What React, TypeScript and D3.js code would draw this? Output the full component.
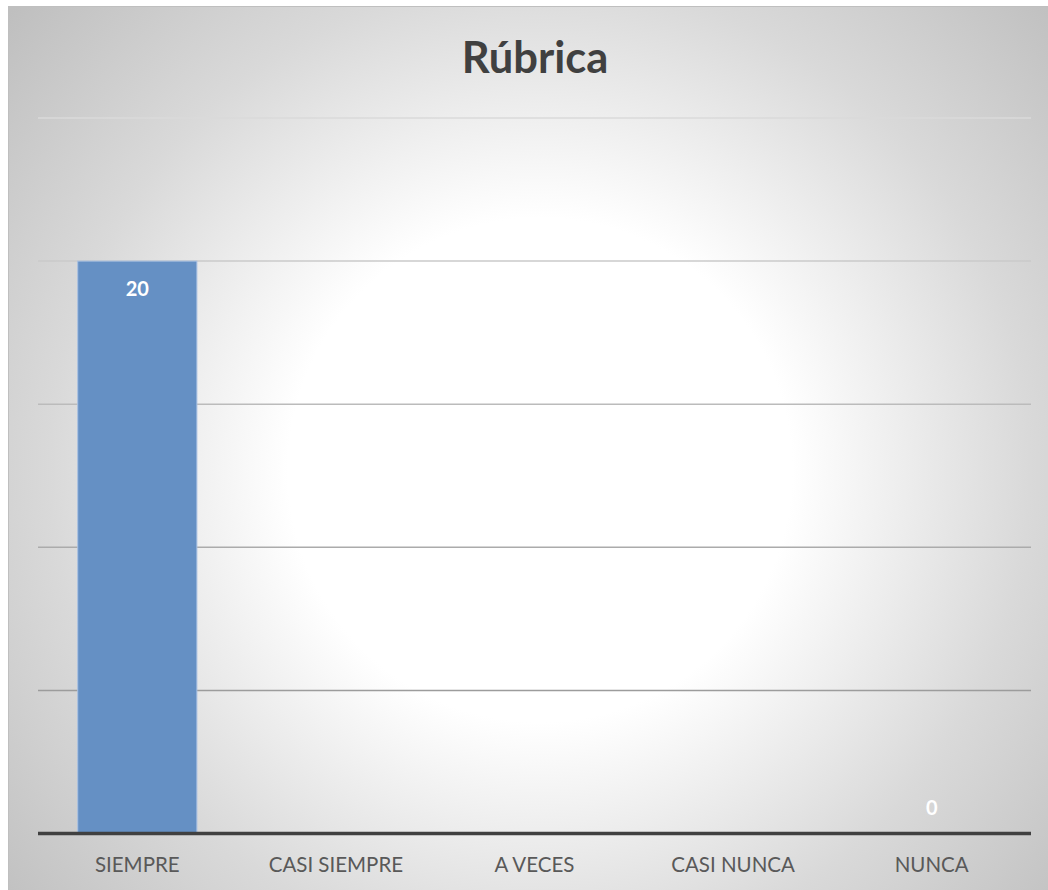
import React from "react";
import * as d3 from "d3";

const title = "Rúbrica";
const categories = ["SIEMPRE", "CASI SIEMPRE", "A VECES", "CASI NUNCA", "NUNCA"];
const values: (number | null)[] = [20, null, null, null, 0];
const yTicks = [0, 5, 10, 15, 20, 25];

const W = 1048;
const H = 890;
const plot = { left: 38, right: 1031, top: 118, bottom: 833.5 };
const FONT = "Lato, 'Open Sans', 'DejaVu Sans', sans-serif";

export default function App() {
  const x = d3.scaleBand<string>().domain(categories).range([plot.left, plot.right]).paddingInner(0.4).paddingOuter(0.2);
  const y = d3.scaleLinear().domain([0, 25]).range([plot.bottom, plot.top]);
  const gridColor = d3.scaleLinear<string>().domain([plot.top, 690]).range(["#dadada", "#9c9c9c"]).clamp(true);

  return (
    <svg width={W} height={H} style={{ position: "absolute", left: 0, top: 0 }}>
      <defs>
        <radialGradient id="bg" gradientUnits="userSpaceOnUse" cx={540} cy={470} r={700}>
          <stop offset="0" stopColor="#ffffff" />
          <stop offset="0.36" stopColor="#ffffff" />
          <stop offset="0.7" stopColor="#d9d9d9" />
          <stop offset="1" stopColor="#bfbfbf" />
        </radialGradient>
      </defs>
      <rect x={8.5} y={6.5} width={W} height={H} fill="url(#bg)" stroke="#bfbfbf" strokeWidth={1} />
      <text x={535} y={73} textAnchor="middle" fontFamily={FONT} fontWeight={700} fontSize={43.5} fill="#404040">
        {title}
      </text>
      {yTicks.filter((t) => t > 0).map((t) => (
        <line key={t} x1={plot.left} x2={plot.right} y1={y(t)} y2={y(t)} stroke={gridColor(y(t))} strokeWidth={1.5} />
      ))}
      {categories.map((c, i) => {
        const v = values[i];
        if (v == null) return null;
        const bx = x(c)!;
        return (
          <g key={c}>
            {v > 0 && (
              <rect x={bx} y={y(v)} width={x.bandwidth()} height={y(0) - y(v)} fill="#6590c4" stroke="#a9c1e2" strokeWidth={1} />
            )}
            <text
              x={bx + x.bandwidth() / 2}
              y={v > 0 ? y(v) + 35 : y(0) - 19}
              textAnchor="middle"
              fontFamily={FONT}
              fontWeight={700}
              fontSize={20}
              fill="#ffffff"
            >
              {v}
            </text>
          </g>
        );
      })}
      <line x1={plot.left} x2={plot.right} y1={y(0)} y2={y(0)} stroke="#404040" strokeWidth={3.5} />
      {categories.map((c) => (
        <text key={c} x={x(c)! + x.bandwidth() / 2} y={872} textAnchor="middle" fontFamily={FONT} fontSize={20.5} fill="#595959">
          {c}
        </text>
      ))}
    </svg>
  );
}
